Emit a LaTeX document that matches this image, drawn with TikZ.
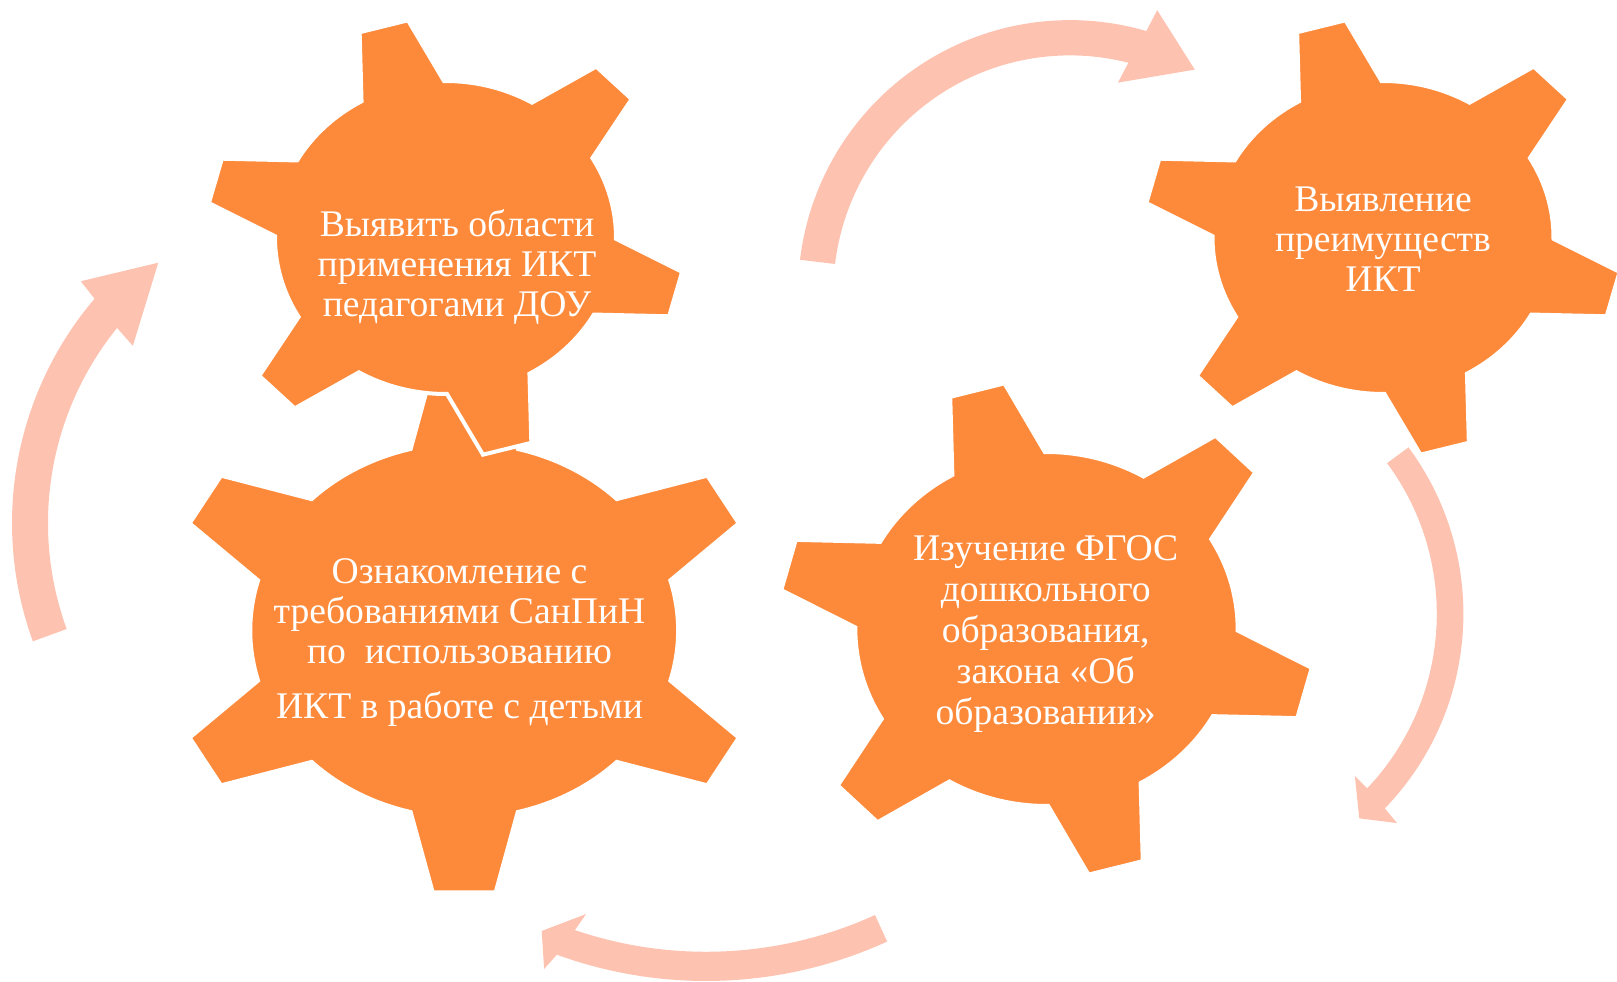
\documentclass[tikz,border=0pt]{standalone}
\usepackage{fontspec}
\setmainfont{Liberation Serif}
\usetikzlibrary{positioning}
\definecolor{gearfill}{HTML}{FD8A3B}
\definecolor{cyclefill}{HTML}{FDC3B0}

% gear outline: #1 = angle of the first tooth, #2 = body radius
\newcommand{\gearpath}[2]{({#1-45.5}:#2)
  \foreach \k in {0,...,5}{
    arc[start angle={#1+60*\k-45.5}, end angle={#1+60*\k-14.5}, radius=#2]
    -- ({#1+60*\k-6}:{1.405*#2}) -- ({#1+60*\k+6}:{1.405*#2})
    -- ({#1+60*\k+14.5}:#2)} -- cycle}

% bent arrow round a centre: #1 centre, #2 tail angle, #3 inner radius, #4 outer radius,
% #5/#6 angles where the outer/inner edge meets the head, #7 outer corner, #8 tip, #9 inner corner
\newcommand{\bentarrow}[9]{%
  \path[cyclearrow, shift={(#1)}] (#2:#3) -- (#2:#4)
    arc[start angle=#2, end angle=#5, radius=#4]
    -- (#7) -- (#8) -- (#9)
    -- (#6:#3) arc[start angle=#6, end angle=#2, radius=#3] -- cycle;}

\tikzset{
  gear/.style={fill=gearfill, draw=white, line width=0.04cm},
  geartext/.style={text=white, align=center, font=\fontsize{10.7}{11.4}\selectfont},
  cyclearrow/.style={fill=cyclefill}
}

\begin{document}
\begin{tikzpicture}[x=0.01cm, y=-0.01cm]
\useasboundingbox (0,0) rectangle (1617,982);

% Cycle arrows between the gears
\coordinate (toparc) at (1070,292);
\coordinate (rightarc) at (1183.4,613.9);
\coordinate (bottomarc) at (706,545);
\coordinate (leftarc) at (358,523);
\bentarrow{toparc}{-173.2}{236.6}{271.9}{-73.7}{-75.7}{-72.8:295}{-60.7:255}{-77.1:214.8}
\bentarrow{rightarc}{-36.5}{253.4}{280}{44}{43.5}{44.4:299}{49.3:269.7}{43.4:236}
\bentarrow{bottomarc}{65.45}{406.8}{436}{110}{108.8}{110.9:453.8}{113.06:419.5}{108:388}
\bentarrow{leftarc}{-200}{310}{346}{-139.6}{-141}{-138.9:367.8}{-127.5:328.1}{-141.8:286.5}

% Gears - lower left first, the upper left one covers its top tooth
\path[gear, shift={(464.2,630.5)}, xscale=1.141] \gearpath{30}{187.5};
\path[gear, shift={(445.5,237.5)}, xscale=1.0895] \gearpath{15}{156.5};
\path[gear, shift={(1383,237.5)}, xscale=1.0895] \gearpath{15}{156.5};
\path[gear, shift={(1046.5,629)}, xscale=1.08] \gearpath{15}{177};

% Texts
\node[geartext] (explore) at (457,267) {Выявить области\\применения ИКТ\\педагогами ДОУ};
\node[geartext] (benefits) at (1383,239.5) {Выявление\\преимуществ\\ИКТ};
\node[geartext, font=\fontsize{10.7}{11.6}\selectfont] (study) at (1045.7,634)
  {Изучение ФГОС\\дошкольного\\образования,\\закона «Об\\образовании»};
\node[geartext] (sanpin) at (459.5,642.4)
  {Ознакомление с\\требованиями СанПиН\\по\ \ использованию\\[0.15cm]ИКТ в работе с детьми};

\end{tikzpicture}
\end{document}
